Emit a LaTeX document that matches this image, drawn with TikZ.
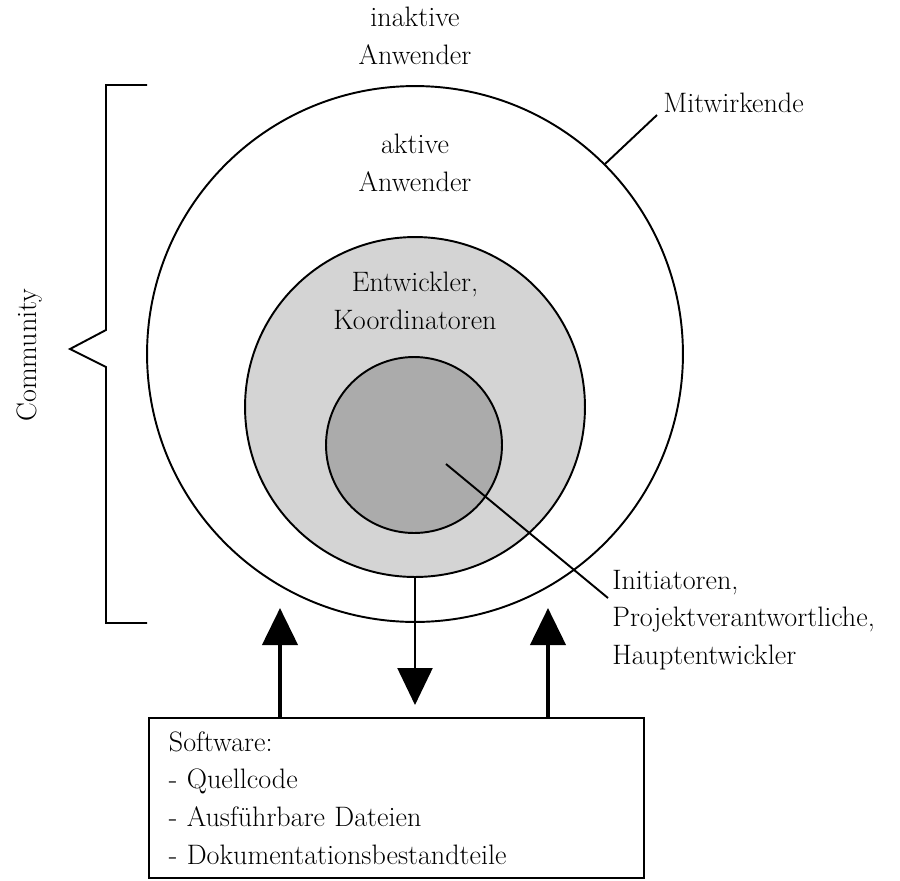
\documentclass[tikz,border=0pt]{standalone}
\usetikzlibrary{arrows.meta}

\tikzset{
  ring/.style={circle, draw, line width=1.1pt, inner sep=0pt},
  txt/.style={align=center, inner sep=0pt},
  pointer/.style={line width=1.1pt},
  downflow/.style={line width=1.3pt, -{Triangle[width=0.7cm,length=0.74cm]}},
  upflow/.style={line width=2.4pt, -{Triangle[width=0.7cm,length=0.74cm]}},
}

\begin{document}
\begin{tikzpicture}[x=0.02cm, y=-0.02cm, every node/.style={font=\fontsize{16}{21.5}\selectfont}]

\useasboundingbox (0,0) rectangle (900,880);

% circles
\node[ring, minimum size=10.72cm] (outer) at (415,354) {};
\node[ring, fill=black!17, minimum size=6.8cm] (mid) at (415,407) {};
\node[ring, fill=black!33, minimum size=3.52cm] (core) at (414,445) {};

% bracket
\draw[line width=1.1pt] (147,85) -- (106,85) -- (106,330) -- (70,349) -- (106,367) -- (106,623) -- (147,623);
\node[rotate=90] (community) at (30,355) {Community};

% labels
\node[txt] (inaktiv) at (415,36) {inaktive\\Anwender};
\node[txt] (aktiv) at (415,163) {aktive\\Anwender};
\node[txt] (entw) at (415,301) {Entwickler,\\Koordinatoren};
\node[anchor=base west, inner sep=0pt] (mitw) at (663,112) {Mitwirkende};
\node[anchor=west, align=left, inner sep=0pt] (init) at (612,620) {Initiatoren,\\Projektverantwortliche,\\Hauptentwickler};

% pointers
\coordinate (mitwend) at (657,115);
\draw[pointer] (outer.45) -- (mitwend);
\coordinate (corept) at (446,464);
\coordinate (initend) at (608,598);
\draw[pointer] (corept) -- (initend);

% software box
\node[draw, line width=1.1pt, anchor=north west, text width=9.1cm, inner xsep=0.4cm,
      minimum height=3.2cm, align=left] (box) at (148,717)
  {Software:\\- Quellcode\\- Ausführbare Dateien\\- Dokumentationsbestandteile};

% flows
\coordinate (upL) at (280,608);
\coordinate (upR) at (548,608);
\coordinate (downtip) at (415,705);
\draw[upflow] (upL |- box.north) -- (upL);
\draw[upflow] (upR |- box.north) -- (upR);
\draw[downflow] (mid.south) -- (downtip);

\end{tikzpicture}
\end{document}
